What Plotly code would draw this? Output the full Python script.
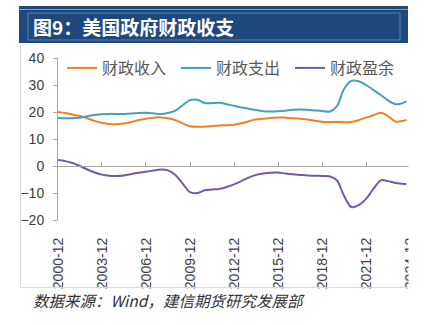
import plotly.graph_objects as go

# half-year observation dates (last point 2024-09)
dates = ["2000-12-01"] + [f"{y}-{m:02d}-01" for y in range(2001, 2025) for m in (6, 12)]
dates = [d for d in dates if d <= "2024-06-01"] + ["2024-09-01"]

revenue = [20.0, 19.6, 19.1, 18.5, 17.7, 16.7, 16.0, 15.6, 15.5, 15.7,
           16.3, 17.0, 17.5, 17.9, 18.0, 17.7, 17.0, 15.8, 14.7, 14.5,
           14.6, 14.8, 15.0, 15.1, 15.3, 15.8, 16.6, 17.2, 17.5, 17.8,
           18.0, 17.9, 17.7, 17.5, 17.2, 16.8, 16.4, 16.3, 16.3, 16.2,
           16.3, 17.0, 17.9, 18.8, 19.7, 18.5, 16.5, 16.7, 17.1]
spending = [17.8, 17.7, 17.7, 17.9, 18.4, 18.9, 19.2, 19.3, 19.3, 19.3,
            19.4, 19.6, 19.7, 19.5, 19.2, 19.6, 20.5, 22.5, 24.4, 24.5,
            23.3, 23.3, 23.4, 22.9, 22.3, 21.7, 21.2, 20.7, 20.3, 20.2,
            20.3, 20.5, 20.8, 20.9, 20.8, 20.6, 20.4, 20.1, 22.0, 28.5,
            31.5, 31.4, 30.0, 28.2, 26.3, 24.3, 22.9, 23.3, 24.0]
surplus = [2.2, 1.8, 1.1, 0.0, -1.3, -2.4, -3.2, -3.6, -3.7, -3.5,
           -3.0, -2.5, -2.1, -1.7, -1.3, -1.6, -3.3, -6.5, -9.7, -10.0,
           -9.0, -8.7, -8.5, -7.8, -6.8, -5.6, -4.3, -3.3, -2.8, -2.5,
           -2.4, -2.8, -3.1, -3.3, -3.5, -3.6, -3.7, -3.8, -5.2, -11.0,
           -15.2, -14.5, -12.2, -8.5, -5.3, -5.6, -6.3, -6.6, -6.7]

series_names = ["财政收入", "财政支出", "财政盈余"]
series_colors = ["#F47F22", "#479FBA", "#7659A0"]
y_ticks = [-20, -10, 0, 10, 20, 30, 40]

W, H = 429, 325
ML, MR, MT, MB = 58, 0, 58, 105
PW, PH = W - ML - MR, H - MT - MB


def px(x):
    return (x - ML) / PW


def py(y):
    return (H - MB - y) / PH


fig = go.Figure()
for name, vals, col in zip(series_names, [revenue, spending, surplus], series_colors):
    fig.add_trace(go.Scatter(x=dates, y=vals, name=name, mode="lines",
                             line=dict(color=col, width=2, shape="spline", smoothing=0.9)))

# invisible trace on overlaying axis for zero-line tick marks
fig.add_trace(go.Scatter(x=[dates[0]], y=[0], xaxis="x2", showlegend=False,
                         mode="markers", marker=dict(opacity=0), hoverinfo="skip"))

tick_font = dict(family="Liberation Sans, Arial", size=14, color="#404040")

fig.update_layout(
    width=W, height=H,
    margin=dict(l=ML, r=MR, t=MT, b=MB, autoexpand=False),
    paper_bgcolor="white", plot_bgcolor="white",
    showlegend=True,
    legend=dict(orientation="h", x=px(62), xanchor="left",
                y=py(68), yanchor="middle",
                font=dict(family="Noto Sans CJK SC", size=16, color="#595959"),
                entrywidth=69, entrywidthmode="pixels",
                bgcolor="rgba(0,0,0,0)", borderwidth=0),
    xaxis=dict(type="date", range=["2000-12-01", "2026-03-18"],
               tick0="2000-12-01", dtick="M36", tickformat="%Y-%m",
               tickangle=-90, tickfont=tick_font, showgrid=False,
               showline=False, ticks="", zeroline=False, automargin=False,
               ticklabelstandoff=14),
    xaxis2=dict(type="date", overlaying="x", matches="x", anchor="free",
                position=1 / 3, side="bottom", showline=True, linecolor="#a6a6a6",
                linewidth=1, ticks="inside", ticklen=4, tickcolor="#a6a6a6",
                tick0="2000-12-01", dtick="M36", showticklabels=False,
                showgrid=False, zeroline=False, automargin=False),
    yaxis=dict(range=[-20, 40], tickvals=y_ticks, tickfont=tick_font,
               showgrid=False, zeroline=False, showline=True, automargin=False,
               linecolor="#a6a6a6", ticks="outside", ticklen=4,
               tickcolor="#a6a6a6", ticklabelstandoff=6),
)

shapes = []


def rect(x0, y0, x1, y1, **kw):
    shapes.append(dict(type="rect", xref="paper", yref="paper",
                       x0=px(x0), x1=px(x1), y0=py(y1), y1=py(y0), **kw))


def line(x0, y0, x1, y1, color, width=1):
    shapes.append(dict(type="line", xref="paper", yref="paper", layer="above",
                       x0=px(x0), x1=px(x1), y0=py(y0), y1=py(y1),
                       line=dict(color=color, width=width)))


# white cover for clipped area at the right
rect(408.5, 44, 430, 326, layer="above", fillcolor="white", line=dict(width=0))
# title bar
rect(19, 6, 408, 43, layer="above", fillcolor="#1F497D", line=dict(width=0))
line(19, 9.5, 408, 9.5, "#7F9CC4", 1)
rect(28, 13, 400, 40, layer="above", fillcolor="rgba(0,0,0,0)",
     line=dict(color="#5F7FAE", width=1))
# chart frame
line(20.5, 45, 20.5, 287.5, "#d9d9d9", 1)
line(20, 287.5, 408, 287.5, "#d9d9d9", 1)

fig.update_layout(shapes=shapes)

fig.add_annotation(text="<b>图9：美国政府财政收支</b>", xref="paper", yref="paper",
                   x=px(31), y=py(26.5), xanchor="left", yanchor="middle",
                   showarrow=False,
                   font=dict(family="Noto Sans CJK SC", size=19, color="white"))
fig.add_annotation(text="<i>数据来源：Wind，建信期货研究发展部</i>", xref="paper",
                   yref="paper", x=px(31), y=py(300), xanchor="left",
                   yanchor="middle", showarrow=False,
                   font=dict(family="Noto Sans CJK SC", size=15.5, color="#333333"))

fig.write_html("out.html")
